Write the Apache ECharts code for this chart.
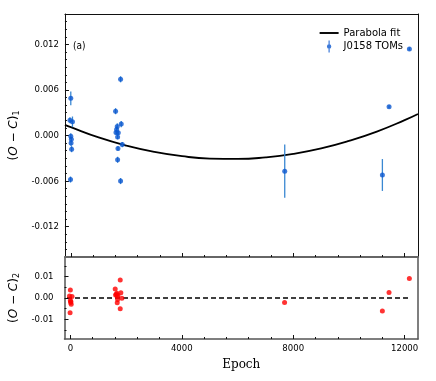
<!DOCTYPE html>
<html>
<head>
<meta charset="utf-8">
<script src="https://cdn.jsdelivr.net/npm/echarts@6/dist/echarts.min.js"></script>
<style>
  html, body { margin: 0; padding: 0; background: #fff; }
  #chart { width: 436px; height: 381px; }
</style>
</head>
<body>
<div id="chart"></div>
<script>
// timing data
const epochs = [0, -30, 60, 0, 20, 10, 30, -10,
  1790, 1610, 1813, 1670, 1647, 1625, 1707, 1683, 1850, 1696, 1683, 1790,
  7690, 11200, 11440, 12170];
const oc1 = [0.0049, 0.0020, 0.0018, -0.0001, -0.0005, -0.0010, -0.0018, -0.0058,
  0.0074, 0.0032, 0.0015, 0.0012, 0.0008, 0.0004, 0.00035, -0.0002, -0.0012, -0.0017, -0.0032, -0.0060,
  -0.0047, -0.0052, 0.0038, 0.0114];
const oc1Err = [0.0009, 0.0004, 0.0007, 0.0004, 0.0003, 0.0004, 0.0004, 0.0004,
  0.0004, 0.0004, 0.0004, 0.0004, 0.0004, 0.0003, 0.0003, 0.0003, 0.00035, 0.0003, 0.0004, 0.0004,
  0.0035, 0.0021, 0.0002, 0.0002];
const oc2 = [0.0038, 0.0009, 0.0007, -0.0012, -0.0016, -0.0021, -0.0029, -0.0069,
  0.0084, 0.0042, 0.0025, 0.0022, 0.0018, 0.0014, 0.0013, 0.0008, -0.0001, -0.0007, -0.0022, -0.0050,
  -0.0021, -0.0061, 0.0026, 0.0091];

// parabola fit, sampled off the curve
const fitEpoch = [-210, 0, 1000, 2000, 3000, 4000, 5000, 6000, 7000, 8000, 9000, 10000, 11000, 12000, 12480];
const fitOC = [0.0014, 0.0011, -0.00025, -0.00133, -0.00216, -0.00273, -0.00304, -0.00309, -0.00288, -0.00242, -0.0017, -0.00071, 0.00052, 0.00202, 0.00283];

const zeroLine = [[-120, 0], [12170, 0]];

const xMajor = [0, 4000, 8000, 12000];
const xMinor = [800, 1600, 2400, 3200, 4800, 5600, 6400, 7200, 8800, 9600, 10400, 11200];
const y1Major = [-0.012, -0.006, 0, 0.006, 0.012];
const y1Minor = [-0.015, -0.014, -0.013, -0.011, -0.01, -0.009, -0.008, -0.007, -0.005, -0.004, -0.003, -0.002, -0.001,
  0.001, 0.002, 0.003, 0.004, 0.005, 0.007, 0.008, 0.009, 0.01, 0.011, 0.013, 0.014, 0.015];
const y2Major = [-0.01, 0, 0.01];
const y2Minor = [-0.015, -0.005, 0.005, 0.015];

const font = "'DejaVu Sans Condensed', 'DejaVu Sans', sans-serif";
const frame = '#111';
const ptColor = '#0b57d0';
const barColor = '#3a88d2';

const chart = echarts.init(document.getElementById('chart'));

const X_MIN = -210, X_MAX = 12480;

// x ticks only get drawn when the axis line is on, so keep it on but invisible
const xBase = (grid, vals, len, withLabel) => ({
  type: 'value', gridIndex: grid, position: 'bottom', min: X_MIN, max: X_MAX,
  axisLine: { show: true, onZero: false, lineStyle: { color: 'rgba(0,0,0,0)' } },
  splitLine: { show: false },
  axisTick: { show: true, inside: true, length: len, customValues: vals, lineStyle: { color: frame, width: 1 } },
  axisLabel: withLabel
    ? { show: true, customValues: vals, margin: 5, fontSize: 9.5, fontFamily: font, color: '#000', formatter: v => String(v) }
    : { show: false }
});
const yBase = (grid, min, max, vals, len, labelFmt, margin) => ({
  type: 'value', gridIndex: grid, position: 'left', min: min, max: max,
  axisLine: { show: false, onZero: false },
  splitLine: { show: false },
  axisTick: { show: true, inside: true, length: len, customValues: vals, lineStyle: { color: frame } },
  axisLabel: labelFmt
    ? { show: true, customValues: vals, margin: margin, fontSize: 9.5, fontFamily: font, color: '#000', formatter: labelFmt }
    : { show: false }
});
// plain axis lines to close the frame
const xEdge = (grid, pos, min, max, color, width) => ({
  type: 'value', gridIndex: grid, position: pos, min: min, max: max,
  axisLine: { show: true, onZero: false, lineStyle: { color: color, width: width } },
  axisTick: { show: false }, axisLabel: { show: false }, splitLine: { show: false }
});

const nameStyle = {
  fontFamily: "'DejaVu Sans', sans-serif", fontSize: 12, color: '#000',
  rich: {
    i: { fontStyle: 'italic', fontSize: 12, fontFamily: "'DejaVu Sans', sans-serif" },
    s: { fontSize: 8, verticalAlign: 'bottom', padding: [5, 0, 0, 0], fontFamily: "'DejaVu Sans', sans-serif" }
  }
};

const x0 = xBase(0, xMajor, 4, false);
const x1 = xBase(0, xMinor, 2, false);
const x2 = xBase(1, xMajor, 4, true);
x2.name = 'Epoch';
x2.nameLocation = 'middle';
x2.nameGap = 20;
x2.nameTextStyle = { fontFamily: "'DejaVu Serif', serif", fontSize: 12, color: '#000' };
const x3 = xBase(1, xMinor, 2, false);

const y0 = yBase(0, -0.016, 0.016, y1Major, 4, v => v.toFixed(3), 6);
y0.name = '({i|O} − {i|C}){s|1}';
y0.nameLocation = 'middle';
y0.nameRotate = 90;
y0.nameGap = 38;
y0.nameTextStyle = nameStyle;
const y1 = yBase(0, -0.016, 0.016, y1Minor, 2, null);
const y2 = yBase(1, -0.0192, 0.0192, y2Major, 4, v => v.toFixed(2), 11);
y2.name = '({i|O} − {i|C}){s|2}';
y2.nameLocation = 'middle';
y2.nameRotate = 90;
y2.nameGap = 38;
y2.nameTextStyle = nameStyle;
const y3 = yBase(1, -0.0192, 0.0192, y2Minor, 2, null);

chart.setOption({
  animation: false,
  title: {
    text: '(a)', left: 68, top: 36,
    textStyle: { fontSize: 10, fontWeight: 'normal', fontFamily: font, color: '#000' }
  },
  legend: {
    orient: 'vertical', right: 28, top: 23, itemWidth: 19, itemHeight: 12, itemGap: 2.5,
    textStyle: { fontSize: 10, fontFamily: "'DejaVu Sans', sans-serif", color: '#000' },
    data: [
      { name: 'Parabola fit', icon: 'path://M0,0H20V2H0Z' },
      { name: 'J0158 TOMs', icon: 'path://M4.4,0H5.6V12H4.4Z M7.2,6A2.2,2.2,0,1,1,2.8,6A2.2,2.2,0,1,1,7.2,6Z' }
    ]
  },
  grid: [
    { left: 61, top: 14, width: 357, height: 243 },
    { left: 61, top: 257, width: 357, height: 82 }
  ],
  xAxis: [x0, x1, x2, x3,
    xEdge(0, 'top', X_MIN, X_MAX, frame, 1),
    xEdge(0, 'bottom', X_MIN, X_MAX, '#666', 2),
    xEdge(1, 'bottom', X_MIN, X_MAX, '#555', 1.5)],
  yAxis: [y0, y1, y2, y3,
    xEdge(0, 'left', -0.016, 0.016, frame, 1),
    xEdge(0, 'right', -0.016, 0.016, frame, 1),
    xEdge(1, 'left', -0.0192, 0.0192, '#555', 1.5),
    xEdge(1, 'right', -0.0192, 0.0192, '#555', 1.5)],
  series: [
    {
      name: 'Parabola fit', type: 'line', xAxisIndex: 0, yAxisIndex: 0,
      data: fitEpoch.map((e, i) => [e, fitOC[i]]),
      smooth: true, showSymbol: false, clip: true,
      lineStyle: { color: '#000', width: 1.8 }, itemStyle: { color: '#000' }, z: 3
    },
    {
      name: 'errbars', type: 'custom', xAxisIndex: 0, yAxisIndex: 0,
      data: epochs.map((e, i) => [e, oc1[i] - oc1Err[i], oc1[i] + oc1Err[i]]),
      renderItem: (params, api) => {
        const lo = api.coord([api.value(0), api.value(1)]);
        const hi = api.coord([api.value(0), api.value(2)]);
        return {
          type: 'line',
          shape: { x1: lo[0], y1: lo[1], x2: hi[0], y2: hi[1] },
          style: { stroke: barColor, lineWidth: 1.3 }
        };
      },
      z: 4
    },
    {
      name: 'J0158 TOMs', type: 'scatter', xAxisIndex: 0, yAxisIndex: 0,
      data: epochs.map((e, i) => [e, oc1[i]]),
      symbolSize: 5, itemStyle: { color: ptColor }, z: 5
    },
    {
      name: 'zero', type: 'line', xAxisIndex: 2, yAxisIndex: 2,
      data: zeroLine, showSymbol: false,
      lineStyle: { color: '#000', width: 1.4, type: [5, 3] }, z: 3
    },
    {
      name: 'residuals', type: 'scatter', xAxisIndex: 2, yAxisIndex: 2,
      data: epochs.map((e, i) => [e, oc2[i]]),
      symbolSize: 5, itemStyle: { color: '#ff0000' }, z: 5
    }
  ]
});
</script>
</body>
</html>
